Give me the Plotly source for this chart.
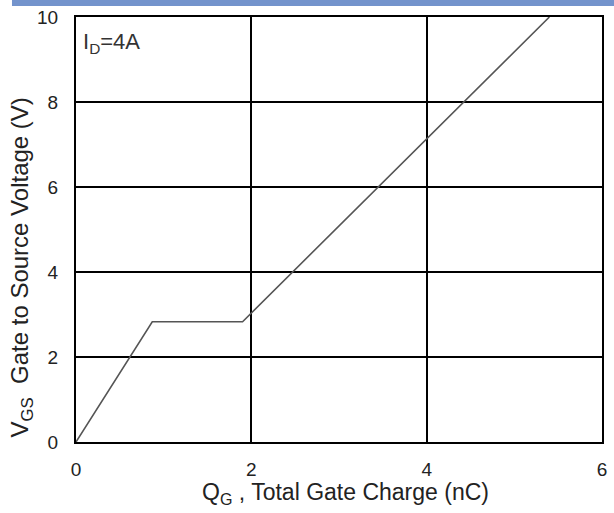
import plotly.graph_objects as go

# Data
qg_nc = [0.0, 0.87, 1.9, 5.4]
vgs_v = [0.0, 2.83, 2.83, 10.0]
x_ticks = [0, 2, 4, 6]
y_ticks = [0, 2, 4, 6, 8, 10]

FONT = "Liberation Sans, Arial, sans-serif"
TICKFONT = "Liberation Sans Narrow, Arial Narrow, Liberation Sans, sans-serif"
TXT = "#222222"

fig = go.Figure()
fig.add_trace(go.Scatter(
    x=qg_nc, y=vgs_v, mode="lines",
    line=dict(color="#555555", width=1.6),
    hoverinfo="skip", showlegend=False,
))

fig.update_layout(
    width=614, height=513,
    margin=dict(l=76, r=12, t=17, b=71, autoexpand=False),
    paper_bgcolor="white", plot_bgcolor="white",
    font=dict(family=FONT, color=TXT, size=17),
    showlegend=False,
)

fig.update_xaxes(
    range=[0, 6], tickvals=x_ticks, ticktext=[str(v) for v in x_ticks],
    showgrid=True, gridcolor="black", gridwidth=1.5,
    showline=True, linecolor="black", linewidth=2, mirror=True,
    zeroline=False, ticks="outside", ticklen=9, tickcolor="rgba(0,0,0,0)",
    tickfont=dict(size=19, family=TICKFONT, color=TXT), automargin=False,
)
fig.update_yaxes(
    range=[0, 10], tickvals=y_ticks, ticktext=[str(v) for v in y_ticks],
    showgrid=True, gridcolor="black", gridwidth=1.5,
    showline=True, linecolor="black", linewidth=2, mirror=True,
    zeroline=False, ticks="outside", ticklen=12, tickcolor="rgba(0,0,0,0)",
    tickfont=dict(size=19, family=TICKFONT, color=TXT), automargin=False,
)

# top blue band
fig.add_shape(type="rect", xref="paper", yref="paper",
              x0=-0.1217, x1=1.03, y0=1.0259, y1=1.05,
              fillcolor="#7393CC", line=dict(width=0), layer="above")

# axis titles as annotations
fig.add_annotation(
    text="Q<sub>G</sub> , Total Gate Charge (nC)",
    xref="paper", yref="paper", x=0.513, y=-0.12,
    xanchor="center", yanchor="middle", showarrow=False,
    font=dict(size=23, family=FONT, color=TXT),
)
fig.add_annotation(
    text="V<sub>GS</sub>  Gate to Source Voltage (V)",
    xref="paper", yref="paper", x=-0.103, y=0.41,
    xanchor="center", yanchor="middle", showarrow=False, textangle=-90,
    font=dict(size=24, family=FONT, color=TXT),
)
fig.add_annotation(
    text="I<sub>D</sub>=4A",
    xref="paper", yref="paper", x=0.010, y=0.939,
    xanchor="left", yanchor="middle", showarrow=False,
    font=dict(size=22, family=FONT, color="#333333"),
)

fig.write_html(
    "out.html",
    config={"displayModeBar": False},
    post_script="document.body.style.margin='0';document.body.style.padding='0';",
)
